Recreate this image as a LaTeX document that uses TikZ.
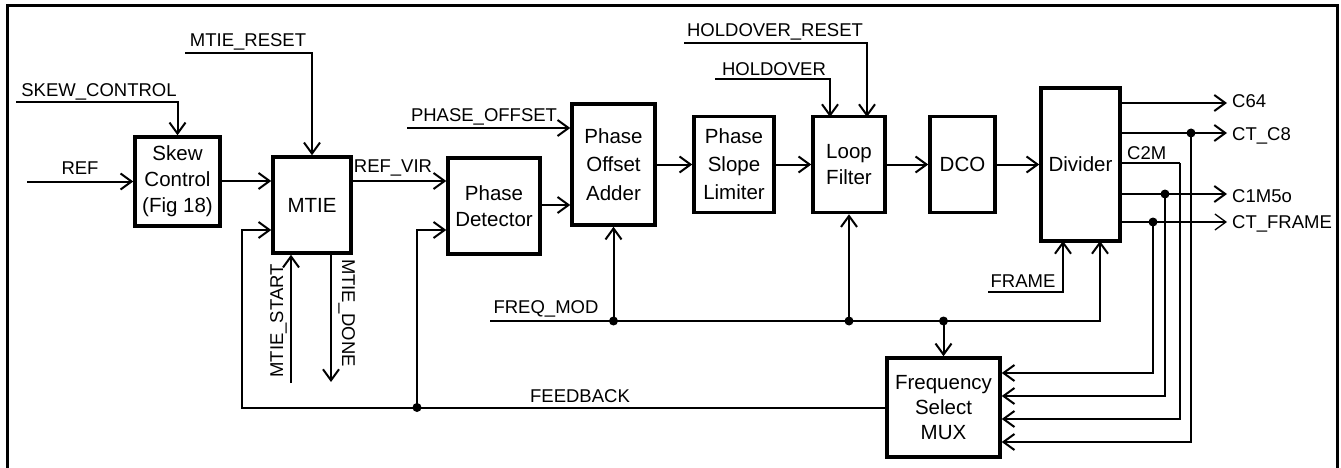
\documentclass[tikz,border=0pt]{standalone}
\usepackage{fontspec}
\setmainfont{Liberation Sans}
\usetikzlibrary{arrows.meta}
\begin{document}
\begin{tikzpicture}[x=1pt,y=-1pt,
  blk/.style={draw,line width=3.5pt,inner sep=0pt,align=center,font=\fontsize{20.5}{26}\selectfont},
  lbl/.style={inner sep=0pt,font=\fontsize{18.5}{22}\selectfont},
  wire/.style={line width=2pt},
  thinw/.style={line width=1.3pt},
  arr/.style={line width=2pt,-{Straight Barb[length=11pt,width=16pt]}},
  jdot/.style={circle,fill=black,inner sep=0pt,minimum size=9pt}]
\useasboundingbox (0,0) rectangle (1341,468);
% frame
\draw[line width=3pt] (7,470) -- (7,6) -- (1337,6) -- (1337,470);
% blocks
\node[blk,minimum width=85pt,minimum height=89pt] (skew) at (177.5,181.5) {Skew\\Control\\(Fig 18)};
\node[blk,minimum width=78pt,minimum height=96pt] (mtie) at (312,205) {MTIE};
\node[blk,minimum width=92pt,minimum height=96pt] (pd) at (494,206) {Phase\\Detector};
\node[blk,minimum width=83pt,minimum height=121pt,font=\fontsize{20.5}{28.5}\selectfont] (poa) at (613.5,164.5) {Phase\\Offset\\Adder};
\node[blk,minimum width=80pt,minimum height=96pt,font=\fontsize{20.5}{28}\selectfont] (psl) at (734,164.5) {Phase\\Slope\\Limiter};
\node[blk,minimum width=72pt,minimum height=96pt] (lf) at (849,164.5) {Loop\\Filter};
\node[blk,minimum width=65pt,minimum height=96pt] (dco) at (962.5,164.5) {DCO};
\node[blk,minimum width=79pt,minimum height=153pt] (div) at (1080.5,164.5) {Divider};
\node[blk,minimum width=113pt,minimum height=99pt,font=\fontsize{20.5}{25}\selectfont] (mux) at (943.5,407.5) {Frequency\\Select\\MUX};
% free ends
\coordinate (skewin) at (16,102);
\coordinate (refin) at (27,181.5);
\coordinate (mrin) at (185,53);
\coordinate (fbdot) at (417,407.5);
\coordinate (fbleft) at (242,230);
\coordinate (msbot) at (291,383);
\coordinate (mdtop) at (331,253);
\coordinate (mdbot) at (331,382);
\coordinate (poin) at (407,128);
\coordinate (hrin) at (684,43);
\coordinate (hrx) at (867,117);
\coordinate (hin) at (715,79);
\coordinate (hx) at (830,117);
\coordinate (fmin) at (490,321);
\coordinate (fmx) at (1100,241);
\coordinate (frin) at (988,292);
\coordinate (frx) at (1063,241);
\coordinate (o64) at (1227,103);
\coordinate (oc8) at (1227,133);
\coordinate (oc2) at (1180,163);
\coordinate (o15) at (1227,194);
\coordinate (ofr) at (1227,222);
% labels
\node[lbl,anchor=base] (lskew) at (99,97) {SKEW\_CONTROL};
\node[lbl,anchor=base] (lref) at (80,175) {REF};
\node[lbl,anchor=base] (lmr) at (248,47) {MTIE\_RESET};
\node[lbl,anchor=base] (lrv) at (393,172) {REF\_VIR};
\node[lbl,anchor=base,rotate=90] (lms) at (283,321) {MTIE\_START};
\node[lbl,anchor=base,rotate=-90] (lmd) at (342,313) {MTIE\_DONE};
\node[lbl,anchor=base] (lpo) at (484,122) {PHASE\_OFFSET};
\node[lbl,anchor=base] (lhr) at (775,37) {HOLDOVER\_RESET};
\node[lbl,anchor=base] (lh) at (774,76) {HOLDOVER};
\node[lbl,anchor=base] (lfm) at (546,313) {FREQ\_MOD};
\node[lbl,anchor=base] (lfb) at (580,402) {FEEDBACK};
\node[lbl,anchor=base] (lfr) at (1023,287) {FRAME};
\node[lbl,anchor=base west] (l64) at (1232,108) {C64};
\node[lbl,anchor=base west] (lc8) at (1232,140) {CT\_C8};
\node[lbl,anchor=base west] (lc2) at (1127,160) {C2M};
\node[lbl,anchor=base west] (l15) at (1232,202) {C1M5o};
\node[lbl,anchor=base west] (lcf) at (1232,228) {CT\_FRAME};
% connectors left
\draw[arr] (skewin) -| (skew.north);
\draw[arr] (refin) -- (refin -| skew.west);
\draw[arr] (mrin) -| (mtie.north);
\draw[arr] (skew.east |- 0,181) -- (mtie.west |- 0,181);
\draw[arr] (mtie.east |- 0,181) -- (pd.west |- 0,181);
\draw[wire] (mux.west) -- (fbdot);
\draw[arr] (fbdot) -| (fbleft) -- (mtie.west |- fbleft);
\draw[arr] (fbdot) |- (pd.west |- fbleft);
\draw[arr] (msbot) -- (msbot |- mtie.south);
\draw[arr] (mdtop) -- (mdbot);
% chain
\draw[arr] (poin) -- (poin -| poa.west);
\draw[arr] (pd.east |- 0,205) -- (poa.west |- 0,205);
\draw[arr] (poa.east) -- (psl.west);
\draw[arr] (psl.east) -- (lf.west);
\draw[arr] (lf.east) -- (dco.west);
\draw[arr] (dco.east) -- (div.west);
\draw[arr] (hrin) -| (hrx);
\draw[arr] (hin) -| (hx);
% freq mod bus
\draw[arr] (fmin) -| (fmx);
\draw[arr] (poa.south |- fmin) -- (poa.south);
\draw[arr] (lf.south |- fmin) -- (lf.south);
\draw[arr] (mux.north |- fmin) -- (mux.north);
\node[jdot] (d1) at (poa.south |- fmin) {};
\node[jdot] (d2) at (lf.south |- fmin) {};
\node[jdot] (d3) at (mux.north |- fmin) {};
\node[jdot] (d4) at (fbdot) {};
\draw[arr] (frin) -| (frx);
% outputs
\draw[arr] (div.east |- o64) -- (o64);
\draw[arr] (div.east |- oc8) -- (oc8);
\draw[thinw] (div.east |- oc2) -- (oc2);
\draw[arr] (div.east |- o15) -- (o15);
\draw[thinw,-{Straight Barb[length=11pt,width=16pt]}] (div.east |- ofr) -- (ofr);
\coordinate (v8) at (1191,133);
\coordinate (v15) at (1165,194);
\coordinate (vfr) at (1153,222);
\draw[arr] (vfr) |- (mux.east |- 0,373);
\draw[arr] (v15) |- (mux.east |- 0,396);
\draw[arr] (oc2) |- (mux.east |- 0,419);
\draw[arr] (v8) |- (mux.east |- 0,442);
\node[jdot] (d5) at (v8) {};
\node[jdot] (d6) at (v15) {};
\node[jdot] (d7) at (vfr) {};
\end{tikzpicture}
\end{document}
